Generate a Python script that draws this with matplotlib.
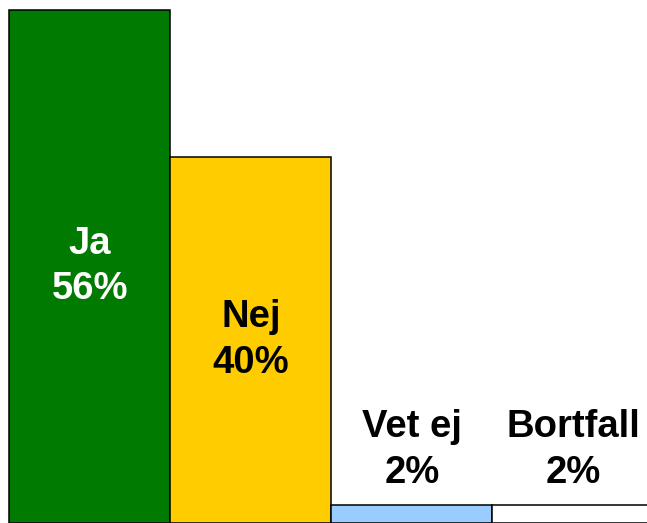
import matplotlib.pyplot as plt

kategorier = ["Ja", "Nej", "Vet ej", "Bortfall"]
andelar = [56, 40, 2, 2]
farger = ["#007A00", "#FFCC00", "#99CCFF", "#FFFFFF"]
textfarger = ["white", "black", "black", "black"]

plt.rcParams['font.family'] = ['Liberation Sans', 'DejaVu Sans']

fig = plt.figure(figsize=(6.47, 5.23), dpi=100)
ax = fig.add_axes([0, 0, 1, 1])

x = range(len(kategorier))
ax.bar(x, andelar, width=1.0, color=farger, edgecolor="black", linewidth=1.1)

for i, (namn, v) in enumerate(zip(kategorier, andelar)):
    etikett = namn + "\n" + str(v) + "%"
    if v > 10:
        ax.text(i, v / 2, etikett, ha="center", va="center", fontsize=27.5,
                fontweight="bold", color=textfarger[i], linespacing=1.35)
    else:
        ax.text(i, v + 6.0, etikett, ha="center", va="center", fontsize=27.5,
                fontweight="bold", color=textfarger[i], linespacing=1.35)

ax.set_xlim(-0.559, 3.46)
ax.set_ylim(0, 57.09)
ax.axis("off")

plt.savefig("out.png", dpi=100)
